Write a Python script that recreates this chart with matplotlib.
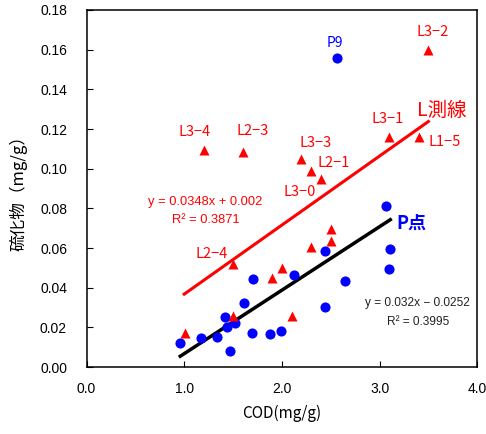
import matplotlib.pyplot as plt
import numpy as np

plt.rcParams['font.family'] = ['Liberation Sans', 'Noto Sans CJK JP', 'DejaVu Sans']
jp = ['Noto Sans CJK JP', 'DejaVu Sans']

# P points (blue circles)
p_cod = [0.96, 1.17, 1.34, 1.42, 1.44, 1.52, 1.47, 1.61, 1.70, 1.69,
         1.88, 1.99, 2.12, 2.44, 2.44, 2.65, 3.07, 3.11, 3.10, 2.56]
p_sulf = [0.0123, 0.0145, 0.0153, 0.0254, 0.0203, 0.0223, 0.0082, 0.0321, 0.0444, 0.0173,
          0.0165, 0.0183, 0.0462, 0.0585, 0.0304, 0.0432, 0.0812, 0.0594, 0.0493, 0.156]

# L line points (red triangles)
l_cod = [3.50, 1.20, 1.60, 2.20, 2.30, 2.40, 3.10, 3.40,
         1.50, 1.01, 1.50, 1.90, 2.00, 2.10, 2.30, 2.50, 2.50]
l_sulf = [0.160, 0.1094, 0.1086, 0.1047, 0.099, 0.0948, 0.1161, 0.1161,
          0.0518, 0.0170, 0.0257, 0.0450, 0.0498, 0.0259, 0.0607, 0.0696, 0.0635]

# point labels
l_names = ['L3−2', 'L3−4', 'L2−3', 'L3−3', 'L2−1', 'L3−0', 'L3−1', 'L1−5', 'L2−4']
l_name_xy = [(3.54, 0.1688), (1.11, 0.1187), (1.70, 0.119), (2.34, 0.1131), (2.53, 0.1027),
             (2.18, 0.0884), (3.08, 0.1251), (3.67, 0.1136), (1.28, 0.0570)]

# trendlines as reported on the chart
l_fit = (0.0348, 0.002)
p_fit = (0.032, -0.0252)
l_range = (1.0, 3.5)
p_range = (min(p_cod), max(p_cod))

fig = plt.figure(figsize=(4.86, 4.34), dpi=100)
ax = fig.add_axes([0.178, 0.154, 0.804, 0.823])

xl = np.array(l_range)
ax.plot(xl, l_fit[0] * xl + l_fit[1], c='#FF0000', lw=2.2, zorder=2)
xp = np.array(p_range)
ax.plot(xp, p_fit[0] * xp + p_fit[1], c='black', lw=2.5, zorder=2)

ax.plot(p_cod, p_sulf, 'o', c='#0000FF', ms=7.3, mec='none', zorder=3)
ax.plot(l_cod, l_sulf, '^', c='#FF0000', ms=7.8, mec='none', zorder=3)

for name, (x, y) in zip(l_names, l_name_xy):
    ax.text(x, y, name, color='#FF0000', fontsize=10.5, family=jp, ha='center', va='center')
ax.text(2.54, 0.1633, 'P9', color='#0000FF', fontsize=10, family=jp, ha='center', va='center')
ax.text(3.64, 0.1296, 'L測線', color='#FF0000', fontsize=14, family=jp, ha='center', va='center')
ax.text(3.33, 0.0725, 'P点', color='#0000FF', fontsize=13, family=jp, ha='center', va='center',
        fontweight='bold')

ax.text(1.22, 0.0834, 'y = 0.0348x + 0.002', color='#FF0000', fontsize=9.3, ha='center', va='center')
ax.text(1.22, 0.0741, 'R² = 0.3871', color='#FF0000', fontsize=9.3, ha='center', va='center')
ax.text(3.39, 0.0324, 'y = 0.032x − 0.0252', color='#222222', fontsize=8.6, ha='center', va='center')
ax.text(3.39, 0.0230, 'R² = 0.3995', color='#222222', fontsize=8.6, ha='center', va='center')

ax.set_xlim(0, 4.0)
ax.set_ylim(0, 0.18)
ax.set_xticks(np.arange(0, 4.01, 1.0))
ax.set_xticklabels([f'{v:.1f}' for v in np.arange(0, 4.01, 1.0)])
ax.set_yticks(np.arange(0, 0.181, 0.02))
ax.set_yticklabels([f'{v:.2f}' for v in np.arange(0, 0.181, 0.02)])
ax.tick_params(direction='in', length=4, width=0.8, labelsize=10)
ax.tick_params(axis='y', pad=14)
ax.tick_params(axis='x', pad=11)
ax.tick_params(top=False, right=False)
for s in ax.spines.values():
    s.set_linewidth(1.1)

ax.set_xlabel('COD(mg/g)', fontsize=11, family=jp, labelpad=6)
ax.set_ylabel('硫化物（mg/g）', fontsize=12, family=jp, labelpad=9)

plt.savefig('out.png', dpi=100)
